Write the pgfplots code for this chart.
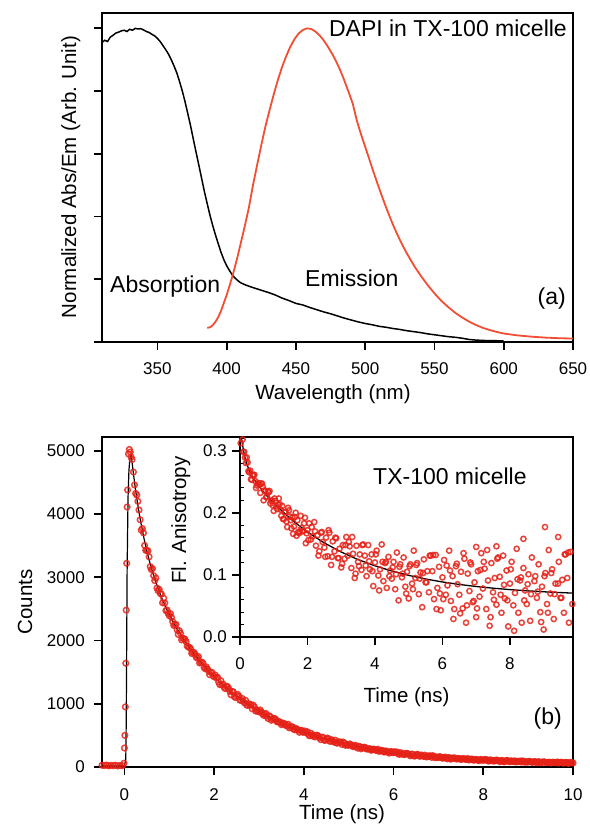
\documentclass[border=0pt]{standalone}
\usepackage{fontspec}
\setmainfont{Liberation Sans}
\usepackage{pgfplots}
\usepackage{pgfplotstable}
\pgfplotsset{compat=1.18}
\definecolor{datred}{RGB}{230,34,24}
\definecolor{emred}{RGB}{242,78,52}

% decay: time (ns), fitted curve, measured counts
\pgfplotstableread{
t fit data
0.20 4639 4663
0.25 4372 4324
0.30 4136 4200
0.35 3926 3909
0.40 3737 3770
0.45 3568 3503
0.50 3414 3425
0.55 3275 3322
0.60 3147 3122
0.65 3030 3025
0.70 2923 2987
0.75 2822 2788
0.80 2729 2743
0.85 2642 2596
0.90 2561 2593
0.95 2483 2483
1.00 2410 2392
1.05 2342 2364
1.10 2276 2237
1.15 2213 2255
1.20 2153 2094
1.25 2095 2113
1.30 2040 2032
1.35 1987 2019
1.40 1936 1912
1.45 1885 1891
1.50 1838 1795
1.55 1791 1812
1.60 1746 1733
1.65 1702 1746
1.70 1660 1658
1.75 1620 1643
1.80 1580 1553
1.85 1541 1550
1.90 1503 1458
1.95 1467 1496
2.00 1431 1426
2.05 1397 1409
2.10 1362 1344
2.15 1330 1365
2.20 1297 1310
2.25 1265 1239
2.30 1235 1270
2.35 1205 1196
2.40 1176 1195
2.45 1148 1112
2.50 1121 1127
2.55 1094 1121
2.60 1068 1054
2.65 1043 1040
2.70 1018 1056
2.75 994 974
2.80 970 978
2.85 947 919
2.90 925 944
2.95 903 903
3.00 882 871
3.05 861 874
3.10 841 818
3.15 821 847
3.20 802 767
3.25 783 794
3.30 765 760
3.35 747 767
3.40 729 715
3.45 712 716
3.50 695 669
3.55 679 692
3.60 663 655
3.65 648 676
3.70 633 632
3.75 619 633
3.80 604 588
3.85 590 596
3.90 577 548
3.95 563 581
4.00 551 548
4.05 538 545
4.10 526 514
4.15 514 535
4.20 502 510
4.25 491 475
4.30 480 502
4.35 469 463
4.40 458 469
4.45 448 425
4.50 438 442
4.55 428 445
4.60 418 409
4.65 409 407
4.70 400 423
4.75 391 378
4.80 382 387
4.85 374 357
4.90 366 378
4.95 358 358
5.00 350 343
5.05 342 350
5.10 335 321
5.15 327 343
5.20 320 298
5.25 313 320
5.30 306 303
5.35 300 313
5.40 293 284
5.45 287 289
5.50 281 264
5.55 275 283
5.60 269 264
5.65 264 282
5.70 258 257
5.75 253 262
5.80 247 237
5.85 242 246
5.90 237 219
5.95 233 245
6.00 228 226
6.05 223 228
6.10 219 212
6.15 214 228
6.20 210 215
6.25 206 196
6.30 202 216
6.35 198 194
6.40 194 202
6.45 190 176
6.50 186 188
6.55 183 194
6.60 179 173
6.65 176 175
6.70 172 188
6.75 169 161
6.80 166 170
6.85 163 152
6.90 160 168
6.95 157 157
7.00 154 150
7.05 151 157
7.10 148 138
7.15 146 157
7.20 143 128
7.25 141 146
7.30 138 136
7.35 136 144
7.40 133 127
7.45 131 133
7.50 129 118
7.55 127 133
7.60 124 121
7.65 122 134
7.70 120 120
7.75 118 125
7.80 116 109
7.85 114 117
7.90 112 99
7.95 111 119
8.00 109 108
8.05 107 110
8.10 105 100
8.15 104 113
8.20 102 106
8.25 101 94
8.30 99 109
8.35 98 95
8.40 96 101
8.45 95 84
8.50 93 95
8.55 92 100
8.60 91 86
8.65 90 89
8.70 88 98
8.75 87 81
8.80 86 88
8.85 85 77
8.90 84 90
8.95 83 83
9.00 82 79
9.05 81 85
9.10 80 73
9.15 79 87
9.20 78 67
9.25 77 81
9.30 76 74
9.35 75 81
9.40 74 69
9.45 73 74
9.50 73 64
9.55 72 76
9.60 71 68
9.65 70 80
9.70 70 70
9.75 69 74
9.80 68 63
9.85 68 70
9.90 67 58
9.95 66 72
10.00 66 65
}\decay

% decay, counts of the channels in between
\pgfplotstableread{
t data
0.225 4459
0.275 4300
0.325 4063
0.375 3745
0.425 3701
0.475 3426
0.525 3415
0.575 3168
0.625 3137
0.675 2947
0.725 2830
0.775 2808
0.825 2733
0.875 2668
0.925 2472
0.975 2427
1.025 2425
1.075 2299
1.125 2252
1.175 2167
1.225 2154
1.275 2009
1.325 2030
1.375 1980
1.425 1898
1.475 1871
1.525 1811
1.575 1782
1.625 1724
1.675 1644
1.725 1658
1.775 1576
1.825 1583
1.875 1520
1.925 1495
1.975 1443
2.025 1454
2.075 1421
2.125 1302
2.175 1296
2.225 1256
2.275 1275
2.325 1238
2.375 1142
2.425 1189
2.475 1098
2.525 1148
2.575 1056
2.625 1083
2.675 1013
2.725 980
2.775 1001
2.825 987
2.875 976
2.925 884
2.975 881
3.025 902
3.075 845
3.125 835
3.175 802
3.225 811
3.275 738
3.325 765
3.375 749
3.425 713
3.475 709
3.525 684
3.575 679
3.625 656
3.675 618
3.725 637
3.775 597
3.825 610
3.875 583
3.925 576
3.975 553
4.025 569
4.075 557
4.125 492
4.175 497
4.225 482
4.275 501
4.325 486
4.375 433
4.425 470
4.475 420
4.525 458
4.575 407
4.625 431
4.675 394
4.725 380
4.775 399
4.825 395
4.875 395
4.925 343
4.975 346
5.025 365
5.075 335
5.125 334
5.175 318
5.225 329
5.275 287
5.325 309
5.375 304
5.425 285
5.475 287
5.525 276
5.575 277
5.625 267
5.675 247
5.725 263
5.775 240
5.825 254
5.875 239
5.925 239
5.975 229
6.025 242
6.075 238
6.125 199
6.175 205
6.225 198
6.275 214
6.325 207
6.375 176
6.425 203
6.475 173
6.525 202
6.575 171
6.625 189
6.675 167
6.725 161
6.775 176
6.825 177
6.875 179
6.925 146
6.975 151
7.025 165
7.075 148
7.125 149
7.175 141
7.225 150
7.275 124
7.325 141
7.375 140
7.425 129
7.475 132
7.525 127
7.575 129
7.625 123
7.675 111
7.725 124
7.775 110
7.825 121
7.875 112
7.925 115
7.975 108
8.025 119
8.075 117
8.125 93
8.175 98
8.225 95
8.275 107
8.325 104
8.375 83
8.425 104
8.475 83
8.525 105
8.575 84
8.625 98
8.675 84
8.725 81
8.775 92
8.825 94
8.875 97
8.925 75
8.975 79
9.025 91
9.075 79
9.125 81
9.175 76
9.225 84
9.275 65
9.325 79
9.375 79
9.425 71
9.475 75
9.525 72
9.575 74
9.625 71
9.675 63
9.725 74
9.775 64
9.825 72
9.875 68
9.925 69
9.975 65
}\decayb

% anisotropy: time (ns), r
\pgfplotstableread{
t r
0.00 0.330
0.02 0.312
0.05 0.325
0.10 0.298
0.15 0.289
0.20 0.289
0.25 0.267
0.30 0.268
0.35 0.253
0.40 0.261
0.45 0.251
0.50 0.244
0.55 0.248
0.60 0.232
0.65 0.247
0.70 0.220
0.75 0.235
0.80 0.226
0.85 0.233
0.90 0.215
0.95 0.220
1.00 0.203
1.05 0.219
1.10 0.206
1.15 0.223
1.20 0.205
1.25 0.211
1.30 0.190
1.35 0.201
1.40 0.177
1.45 0.204
1.50 0.188
1.55 0.193
1.60 0.178
1.65 0.200
1.70 0.188
1.75 0.167
1.80 0.195
1.85 0.170
1.90 0.183
1.95 0.151
2.00 0.172
2.05 0.183
2.10 0.157
2.15 0.162
2.20 0.185
2.25 0.147
2.30 0.164
2.35 0.138
2.40 0.168
2.45 0.153
2.50 0.144
2.55 0.160
2.60 0.130
2.65 0.168
2.70 0.116
2.75 0.154
2.80 0.138
2.85 0.159
2.90 0.127
2.95 0.142
3.00 0.112
3.05 0.148
3.10 0.126
3.15 0.161
3.20 0.131
3.25 0.146
3.30 0.111
3.35 0.134
3.40 0.095
3.45 0.147
3.50 0.121
3.55 0.133
3.60 0.108
3.65 0.149
3.70 0.131
3.75 0.098
3.80 0.148
3.85 0.109
3.90 0.133
3.95 0.082
4.00 0.120
4.05 0.139
4.10 0.099
4.15 0.109
4.20 0.149
4.25 0.090
4.30 0.119
4.35 0.079
4.40 0.129
4.45 0.107
4.50 0.094
4.55 0.121
4.60 0.077
4.65 0.136
4.70 0.059
4.75 0.117
4.80 0.096
4.85 0.128
4.90 0.081
4.95 0.105
5.00 0.062
5.05 0.117
5.10 0.086
5.15 0.139
5.20 0.095
5.25 0.119
5.30 0.069
5.35 0.104
5.40 0.048
5.45 0.125
5.50 0.088
5.55 0.106
5.60 0.072
5.65 0.131
5.70 0.106
5.75 0.061
5.80 0.132
5.85 0.079
5.90 0.113
5.95 0.043
6.00 0.096
6.05 0.124
6.10 0.068
6.15 0.083
6.20 0.139
6.25 0.058
6.30 0.098
6.35 0.045
6.40 0.114
6.45 0.085
6.50 0.068
6.55 0.105
6.60 0.046
6.65 0.126
6.70 0.023
6.75 0.102
6.80 0.074
6.85 0.117
6.90 0.056
6.95 0.088
7.00 0.032
7.05 0.106
7.10 0.065
7.15 0.135
7.20 0.078
7.25 0.110
7.30 0.045
7.35 0.091
7.40 0.018
7.45 0.119
7.50 0.072
7.55 0.095
7.60 0.052
7.65 0.128
7.70 0.097
7.75 0.039
7.80 0.131
7.85 0.062
7.90 0.107
7.95 0.017
8.00 0.086
8.05 0.121
8.10 0.051
8.15 0.071
8.20 0.142
8.25 0.039
8.30 0.091
8.35 0.023
8.40 0.111
8.45 0.075
8.50 0.053
8.55 0.101
8.60 0.026
8.65 0.128
8.70 -0.002
8.75 0.098
8.80 0.063
8.85 0.117
8.90 0.040
8.95 0.081
9.00 0.012
9.05 0.103
9.10 0.053
9.15 0.140
9.20 0.070
9.25 0.109
9.30 0.029
9.35 0.086
9.40 -0.003
9.45 0.121
9.50 0.063
9.55 0.092
9.60 0.039
9.65 0.133
9.70 0.095
9.75 0.023
9.80 0.137
9.85 0.053
0.025 0.327
0.075 0.318
0.125 0.298
0.175 0.280
0.225 0.281
0.275 0.265
0.325 0.254
0.375 0.260
0.425 0.261
0.475 0.240
0.525 0.247
0.575 0.246
0.625 0.247
0.675 0.242
0.725 0.236
0.775 0.225
0.825 0.235
0.875 0.235
0.925 0.219
0.975 0.212
1.025 0.223
1.075 0.211
1.125 0.213
1.175 0.214
1.225 0.195
1.275 0.190
1.325 0.201
1.375 0.186
1.425 0.208
1.475 0.194
1.525 0.175
1.575 0.166
1.625 0.193
1.675 0.163
1.725 0.169
1.775 0.170
1.825 0.176
1.875 0.171
1.925 0.192
1.975 0.167
2.025 0.156
2.125 0.177
2.225 0.170
2.325 0.131
2.425 0.169
2.525 0.129
2.625 0.172
2.725 0.129
2.825 0.160
2.925 0.127
3.025 0.118
3.125 0.148
3.225 0.153
3.325 0.161
3.425 0.102
3.525 0.114
3.625 0.148
3.725 0.115
3.825 0.122
3.925 0.106
4.025 0.133
4.125 0.075
4.225 0.121
4.325 0.121
4.425 0.098
4.525 0.112
4.625 0.101
4.725 0.113
4.825 0.102
4.925 0.070
5.025 0.114
5.125 0.077
5.225 0.116
5.325 0.094
5.425 0.103
5.525 0.088
5.625 0.131
5.725 0.132
5.825 0.045
5.925 0.070
6.025 0.061
6.125 0.115
6.225 0.107
6.325 0.029
6.425 0.118
6.525 0.038
6.625 0.135
6.725 0.051
6.825 0.120
6.925 0.058
7.025 0.046
7.125 0.108
7.225 0.121
7.325 0.140
7.425 0.032
7.525 0.060
7.625 0.126
7.725 0.068
7.825 0.084
7.925 0.059
8.025 0.109
8.125 0.010
8.225 0.093
8.325 0.096
8.425 0.059
8.525 0.085
8.625 0.069
8.725 0.090
8.825 0.073
8.925 0.024
9.025 0.098
9.125 0.039
9.225 0.103
9.325 0.069
9.425 0.086
9.525 0.063
9.625 0.133
9.725 0.136
9.825 -0.001
9.04 0.177
9.43 0.161
8.40 0.158
7.60 0.146
7.00 0.145
}\aniso

\pgfplotsset{
  panel/.style={
    scale only axis,
    anchor=south west,
    axis line style={line width=1.8pt},
    tick style={line width=1.8pt, black},
    tick align=outside,
    major tick length=8pt,
    minor tick length=4pt,
    xtick pos=left, ytick pos=left,
    tick label style={font=\fontsize{17}{20}\selectfont},
    /pgf/number format/assume math mode=true,
    xticklabel style={anchor=base, inner sep=0pt, yshift=-25pt},
    yticklabel style={anchor=east, inner sep=0pt},
  },
  dots/.style={only marks, mark=o, mark size=2.8pt, datred,
    mark options={line width=1.5pt, draw opacity=0.85}},
}

\newcommand{\lab}{\fontsize{20.5}{24}\selectfont}
\newcommand{\ann}{\fontsize{23}{27}\selectfont}

\begin{document}
\begin{tikzpicture}[x=1pt,y=1pt]
\useasboundingbox (0,0) rectangle (589,826);

% (a) absorption and emission
\begin{axis}[panel, at={(102pt,484pt)}, width=471pt, height=329pt,
  xmin=310, xmax=650, ymin=0, ymax=1.049,
  xtick={350,400,450,500,550,600,650},
  ytick={0,0.2,0.4,0.6,0.8,1}, yticklabels={}]
\addplot[black, line width=1.5pt] coordinates {
(310,0.955) (312,0.962) (314,0.958) (316,0.972) (318,0.978) (320,0.985)
(322,0.988) (324,0.992) (326,0.994) (328,0.990) (330,0.997) (332,0.994)
(334,1.000) (336,0.998) (338,0.999) (340,0.995) (342,0.990) (344,0.987)
(346,0.981) (348,0.976) (350,0.968) (352,0.958) (354,0.945) (356,0.932)
(358,0.918) (360,0.900) (362,0.880) (364,0.858) (366,0.830) (368,0.800)
(370,0.765) (372,0.727) (374,0.688) (376,0.645) (378,0.603) (380,0.562)
(382,0.520) (384,0.478) (386,0.440) (388,0.403) (390,0.370) (392,0.340)
(394,0.312) (396,0.285) (398,0.262) (400,0.243) (402,0.228) (404,0.214)
(406,0.204) (408,0.196) (410,0.189) (413,0.183) (416,0.178) (420,0.172)
(425,0.165) (430,0.158) (435,0.150) (440,0.140) (445,0.132) (450,0.123)
(455,0.118) (460,0.110) (465,0.103) (470,0.096) (475,0.090) (480,0.083)
(485,0.076) (490,0.070) (495,0.064) (500,0.059) (505,0.055) (510,0.050)
(515,0.047) (520,0.043) (525,0.040) (530,0.036) (535,0.033) (540,0.030)
(545,0.026) (550,0.023) (555,0.020) (560,0.017) (565,0.015) (570,0.012)
(575,0.008) (580,0.006) (585,0.005) (590,0.004) (595,0.004) (600,0.003)
};
\addplot[emred, line width=1.8pt] coordinates {
(386,0.045) (388,0.047) (390,0.054) (392,0.065) (394,0.080) (396,0.100)
(398,0.125) (400,0.150) (402,0.178) (404,0.208) (406,0.240) (408,0.275)
(410,0.312) (413,0.368) (416,0.428) (419,0.500) (422,0.565) (425,0.628)
(428,0.688) (431,0.740) (434,0.790) (437,0.836) (440,0.877) (443,0.912)
(446,0.942) (449,0.966) (452,0.984) (455,0.995) (458,1.000) (461,0.998)
(464,0.990) (467,0.978) (470,0.962) (473,0.942) (476,0.920) (479,0.895)
(482,0.866) (485,0.833) (488,0.797) (491,0.760) (494,0.705) (497,0.662)
(500,0.622) (503,0.582) (506,0.542) (509,0.503) (512,0.466) (515,0.430)
(518,0.396) (521,0.364) (524,0.335) (527,0.308) (530,0.283) (533,0.260)
(536,0.238) (540,0.212) (545,0.182) (550,0.155) (555,0.131) (560,0.111)
(565,0.093) (570,0.078) (575,0.065) (580,0.054) (585,0.045) (590,0.038)
(595,0.032) (600,0.027) (610,0.021) (620,0.017) (630,0.014) (640,0.012)
(650,0.011)
};
\end{axis}

% (b) fluorescence decay
\begin{axis}[panel, at={(102pt,59pt)}, width=471pt, height=330pt,
  xmin=-0.5, xmax=10, ymin=0, ymax=5217,
  xtick={0,2,4,6,8,10}, ytick={0,1000,2000,3000,4000,5000},
  scaled y ticks=false, /pgf/number format/1000 sep={},
  yticklabel style={xshift=-9pt}]
\addplot[dots] coordinates {
(-0.50,28) (-0.45,22) (-0.40,31) (-0.35,18) (-0.30,26) (-0.25,20)
(-0.20,29) (-0.15,17) (-0.10,24) (-0.05,21) (-0.01,60) (0.00,300)
(0.01,500) (0.02,950) (0.03,1640) (0.04,2480) (0.05,3220) (0.06,4110)
(0.07,4380) (0.09,4950) (0.11,5020) (0.13,4980) (0.15,4900) (0.17,4860)
};
\addplot[dots] table[x=t, y=data] {\decay};
\addplot[dots] table[x=t, y=data] {\decayb};
\addplot[black, line width=1.2pt] coordinates {
(-0.5,20) (0.0,22) (0.03,120) (0.04,700) (0.05,1900) (0.06,3100)
(0.08,4250) (0.10,4680) (0.12,4870) (0.15,4940) (0.20,4639)
};
\addplot[black, line width=1.2pt] table[x=t, y=fit] {\decay};
\end{axis}

% inset: anisotropy
\begin{axis}[panel, at={(240pt,189pt)}, width=333pt, height=200pt,
  axis background/.style={fill=white},
  xmin=0, xmax=9.87, ymin=0, ymax=0.322,
  xtick={0,2,4,6,8}, ytick={0,0.1,0.2,0.3},
  yticklabel style={xshift=-5pt, /pgf/number format/fixed,
    /pgf/number format/fixed zerofill, /pgf/number format/precision=1},
  extra y ticks={0.02,0.04,0.06,0.08,0.12,0.14,0.16,0.18,0.22,0.24,0.26,0.28,0.32},
  extra y tick labels={},
  extra y tick style={tick align=inside, major tick length=4pt,
    tick style={line width=1pt, black}}]
\addplot[dots, mark size=2.6pt] table[x=t, y=r] {\aniso};
\addplot[black, line width=1.3pt] coordinates {
(0,0.343) (0.05,0.3186) (0.1,0.3012) (0.15,0.2884) (0.2,0.2787) (0.3,0.2650)
(0.4,0.2551) (0.5,0.2471) (0.75,0.2301) (1,0.2155) (1.5,0.1901) (2,0.1689)
(2.5,0.1514) (3,0.1368) (3.5,0.1246) (4,0.1146) (4.5,0.1062) (5,0.0992)
(5.5,0.0934) (6,0.0886) (6.5,0.0846) (7,0.0813) (7.5,0.0786) (8,0.0763)
(8.5,0.0744) (9,0.0728) (9.5,0.0715) (9.85,0.0707)
};
\end{axis}

% labels and annotations
\node[rotate=90, anchor=base, inner sep=0pt] at (76,649) {\lab Normalized Abs/Em (Arb. Unit)};
\node[anchor=base, inner sep=0pt] at (333,426) {\lab Wavelength (nm)};
\node[anchor=base east, inner sep=0pt] at (567,789) {\ann DAPI in TX-100 micelle};
\node[anchor=base west, inner sep=0pt] at (110,533) {\ann Absorption};
\node[anchor=base west, inner sep=0pt] at (305,539) {\ann Emission};
\node[anchor=base east, inner sep=0pt] at (566,521) {\ann (a)};

\node[rotate=90, anchor=base, inner sep=0pt] at (32,224) {\lab Counts};
\node[rotate=90, anchor=base, inner sep=0pt] at (186,306) {\lab Fl. Anisotropy};
\node[anchor=base, inner sep=0pt] at (342,6) {\lab Time (ns)};
\node[anchor=base, inner sep=0pt] at (406.5,123) {\lab Time (ns)};
\node[anchor=base west, inner sep=0pt] at (373,341) {\ann TX-100 micelle};
\node[anchor=base east, inner sep=0pt] at (562,101) {\ann (b)};
\end{tikzpicture}
\end{document}
